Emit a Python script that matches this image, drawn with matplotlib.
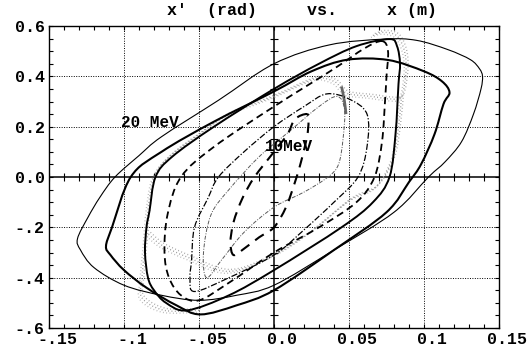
import numpy as np
import matplotlib.pyplot as plt
import matplotlib.patheffects as pe
from matplotlib.path import Path
from matplotlib.patches import PathPatch
from matplotlib.transforms import ScaledTranslation

# ---- data: traced curves (x in m, x' in rad) ----
# outer curve (thin solid)
c1_x = [-0.131, -0.124, -0.116, -0.106, -0.090, -0.075, -0.037, 0.0, 0.037, 0.074, 0.095, 0.116,
        0.131, 0.137, 0.139, 0.138, 0.133, 0.125, 0.114, 0.103, 0.080, 0.040, 0.0, -0.025,
        -0.050, -0.075, -0.100, -0.120, -0.129, -0.131]
c1_y = [-0.245, -0.16, -0.08, 0.0, 0.085, 0.16, 0.305, 0.45, 0.525, 0.548, 0.543, 0.506,
        0.466, 0.43, 0.40, 0.35, 0.25, 0.14, 0.06, 0.0, -0.14, -0.29, -0.43, -0.47,
        -0.49, -0.47, -0.43, -0.36, -0.29, -0.245]

# thick solid, right tip at 0.117
c2_x = [-0.112, -0.108, -0.0955, -0.075, -0.040, 0.0, 0.025, 0.049, 0.076, 0.100, 0.112, 0.117,
        0.113, 0.107, 0.098, 0.090, 0.075, 0.040, 0.0, -0.025, -0.049, -0.065, -0.085, -0.100,
        -0.109, -0.112]
c2_y = [-0.275, -0.20, 0.0, 0.10, 0.22, 0.34, 0.42, 0.466, 0.465, 0.42, 0.38, 0.336,
        0.29, 0.17, 0.05, -0.02, -0.14, -0.29, -0.45, -0.51, -0.546, -0.51, -0.44, -0.37,
        -0.31, -0.275]

# thick solid with steep sides
c3_x = [0.077, 0.082, 0.084, 0.083, 0.081, 0.077, 0.066, 0.045, 0.0, -0.030, -0.058, -0.072,
        -0.080, -0.084, -0.086, -0.085, -0.083, -0.079, -0.068, -0.040, 0.0, 0.030, 0.055, 0.077]
c3_y = [0.548, 0.52, 0.45, 0.37, 0.17, 0.0, -0.10, -0.20, -0.37, -0.47, -0.53, -0.50,
        -0.45, -0.40, -0.30, -0.20, -0.135, 0.0, 0.08, 0.20, 0.35, 0.45, 0.52, 0.548]

# thick dashed
c4_x = [0.072, 0.076, 0.075, 0.074, 0.072, 0.067, 0.055, 0.030, 0.0, -0.030, -0.050, -0.062,
        -0.070, -0.073, -0.071, -0.062, -0.040, 0.0, 0.040, 0.060, 0.072]
c4_y = [0.54, 0.50, 0.40, 0.30, 0.14, 0.0, -0.10, -0.20, -0.30, -0.42, -0.49, -0.47,
        -0.40, -0.30, -0.15, 0.0, 0.12, 0.28, 0.43, 0.51, 0.54]

# inner dash-dot curves
c5_x = [-0.053, -0.056, -0.055, -0.053, -0.044, -0.037, -0.020, 0.0, 0.020, 0.035, 0.050, 0.062,
        0.062, 0.056, 0.040, 0.020, 0.0, -0.030, -0.053]
c5_y = [-0.455, -0.40, -0.335, -0.20, -0.084, 0.0, 0.10, 0.20, 0.28, 0.33, 0.31, 0.25,
        0.12, 0.0, -0.10, -0.21, -0.31, -0.40, -0.455]
c5b_x = [-0.045, -0.047, -0.042, -0.030, -0.010, 0.010, 0.030, 0.042, 0.047, 0.046, 0.043, 0.036,
         0.020, 0.0, -0.020, -0.035, -0.045]
c5b_y = [-0.40, -0.30, -0.15, -0.05, 0.08, 0.18, 0.28, 0.32, 0.27, 0.15, 0.05, 0.0,
         -0.06, -0.12, -0.22, -0.33, -0.40]

# 10 MeV (innermost dashed)
c6_x = [0.022, 0.014, 0.009, 0.0, -0.013, -0.021, -0.027, -0.029, -0.027, -0.020, -0.010, 0.0,
        0.008, 0.014, 0.018, 0.022, 0.023, 0.022]
c6_y = [0.25, 0.23, 0.17, 0.10, 0.0, -0.084, -0.18, -0.26, -0.31, -0.285, -0.24, -0.20,
        -0.12, -0.02, 0.06, 0.16, 0.22, 0.25]

# gray particle band
g1_x = [-0.050, -0.073, -0.088, -0.088, -0.086, -0.084, -0.080, -0.070, -0.050, -0.030, 0.0, 0.027,
        0.040, 0.045, 0.050, 0.065, 0.078, 0.085, 0.088, 0.087, 0.082, 0.073, 0.065]
g1_y = [-0.53, -0.53, -0.48, -0.40, -0.27, -0.13, 0.0, 0.08, 0.17, 0.25, 0.32, 0.39,
        0.38, 0.35, 0.33, 0.32, 0.31, 0.32, 0.42, 0.50, 0.56, 0.575, 0.56]
g2_x = [0.085, 0.083, 0.079, 0.068, 0.051, 0.024, 0.0, -0.030, -0.057, -0.075, -0.085]
g2_y = [0.32, 0.20, 0.07, -0.04, -0.09, -0.22, -0.31, -0.375, -0.32, -0.27, -0.22]
g3_x = [0.045, 0.047, 0.048]
g3_y = [0.36, 0.30, 0.25]

x_ticks = [-0.15, -0.1, -0.05, 0.0, 0.05, 0.1, 0.15]
x_labels = ['-.15', '-.1', '-.05', '0.0', '0.05', '0.1', '0.15']
y_ticks = [-0.6, -0.4, -0.2, 0.0, 0.2, 0.4, 0.6]
y_labels = ['-.6', '-.4', '-.2', '0.0', '0.2', '0.4', '0.6']

mono = 'Liberation Mono'


def smooth_path(xs, ys, closed=True):
    # Catmull-Rom style cubic Bezier through the traced points
    pts = np.column_stack([xs, ys]).astype(float)
    if closed:
        pts = pts[:-1]
    n = len(pts)
    verts = [pts[0]]
    codes = [Path.MOVETO]
    last = n if closed else n - 1
    for i in range(last):
        if closed:
            p0, p1, p2, p3 = pts[i - 1], pts[i], pts[(i + 1) % n], pts[(i + 2) % n]
        else:
            p0 = pts[max(i - 1, 0)]
            p1 = pts[i]
            p2 = pts[i + 1]
            p3 = pts[min(i + 2, n - 1)]
        verts += [p1 + (p2 - p0) / 6, p2 - (p3 - p1) / 6, p2]
        codes += [Path.CURVE4] * 3
    return Path(verts, codes)


def curve(ax, xs, ys, closed=True, **kw):
    patch = PathPatch(smooth_path(xs, ys, closed), fill=False, **kw)
    ax.add_patch(patch)
    return patch


fig = plt.figure(figsize=(5.29, 3.48), dpi=100)
ax = fig.add_axes([49 / 529, 20 / 348, 450 / 529, 302 / 348])
ax.set_xlim(-0.15, 0.15)
ax.set_ylim(-0.6, 0.6)

# grid
for gx in [-0.1, -0.05, 0.05, 0.1]:
    ax.axvline(gx, color='k', lw=0.7, ls=(0, (1, 1.5)), zorder=1)
for gy in [-0.4, -0.2, 0.2, 0.4]:
    ax.axhline(gy, color='k', lw=0.7, ls=(0, (1, 1.5)), zorder=1)

# crosshair axes with ticks
ax.axhline(0, color='k', lw=1.1, zorder=2)
ax.axvline(0, color='k', lw=1.1, zorder=2)
xm = np.arange(-0.15, 0.1501, 0.01)
ym = np.arange(-0.6, 0.601, 0.05)
ax.plot(xm, np.zeros_like(xm), ls='none', marker='|', ms=6, mew=0.8, color='k', zorder=2)
ax.plot(np.zeros_like(ym), ym, ls='none', marker='_', ms=6, mew=0.8, color='k', zorder=2)

# gray band (speckled)
band = [pe.SimpleLineShadow(offset=(1.4, 1.4), shadow_color='0.62', alpha=1.0),
        pe.SimpleLineShadow(offset=(-1.4, -1.4), shadow_color='0.7', alpha=1.0),
        pe.Normal()]
for gx_, gy_ in [(g1_x, g1_y), (g2_x, g2_y)]:
    curve(ax, gx_, gy_, closed=False, edgecolor='0.55', lw=1.0, ls=(0, (0.6, 1.8)),
          zorder=3, path_effects=band)
curve(ax, g3_x, g3_y, closed=False, edgecolor='0.4', lw=2.0, zorder=3)

# curves
curve(ax, c1_x, c1_y, edgecolor='k', lw=0.8, zorder=4)
curve(ax, c2_x, c2_y, edgecolor='k', lw=1.5, zorder=4)
curve(ax, c3_x, c3_y, edgecolor='k', lw=1.4, zorder=4)
curve(ax, c4_x, c4_y, edgecolor='k', lw=1.3, ls=(0, (4, 2.5)), zorder=4)
curve(ax, c5_x, c5_y, edgecolor='k', lw=0.9, ls=(0, (5, 1.5, 1, 1.5)), zorder=4)
curve(ax, c5b_x, c5b_y, edgecolor='0.35', lw=0.7, ls=(0, (4, 1.5, 1, 1.5)), zorder=4)
curve(ax, c6_x, c6_y, edgecolor='k', lw=1.5, ls=(0, (5, 3.5)), zorder=4)

# labels
ax.text(-0.083, 0.215, '20 MeV', family=mono, weight='bold', fontsize=11.5,
        ha='center', va='center', zorder=5)
ax.text(-0.006, 0.123, '10MeV', family=mono, weight='bold', fontsize=11.5,
        ha='left', va='center', zorder=5)

# ticks
ax.set_xticks(x_ticks)
ax.set_xticklabels(x_labels, family=mono, weight='bold', fontsize=12)
ax.set_yticks(y_ticks)
ax.set_yticklabels(y_labels, family=mono, weight='bold', fontsize=12)
ax.set_xticks(xm, minor=True)
ax.set_yticks(ym, minor=True)
ax.tick_params(which='both', direction='in', top=True, right=True, length=3, width=0.8)
ax.tick_params(axis='x', pad=3)
ax.tick_params(axis='y', pad=3)
shift = ScaledTranslation(8 / 100, 0, fig.dpi_scale_trans)
for lab in ax.get_xticklabels():
    lab.set_transform(lab.get_transform() + shift)
for sp in ax.spines.values():
    sp.set_linewidth(1.0)

fig.text(302 / 529, 1 - 10 / 348, 'x\u2032  (rad)     vs.     x (m)', family=mono, weight='bold',
         fontsize=12, ha='center', va='center')

fig.savefig('out.png', dpi=100)
